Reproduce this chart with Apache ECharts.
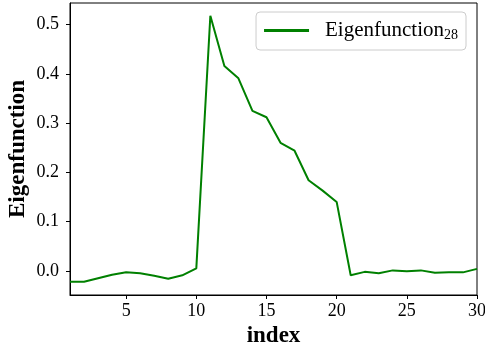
<!DOCTYPE html>
<html>
<head>
<meta charset="utf-8">
<script src="https://cdn.jsdelivr.net/npm/echarts@6/dist/echarts.min.js"></script>
<style>
  html, body { margin: 0; padding: 0; background: #fff; }
  #chart { width: 485px; height: 353px; }
</style>
</head>
<body>
<div id="chart"></div>
<script>
// values
let index_values = [1, 2, 3, 4, 5, 6, 7, 8, 9, 10, 11, 12, 13, 14, 15,
    16, 17, 18, 19, 20, 21, 22, 23, 24, 25, 26, 27, 28, 29, 30];
let eigen_values = [-0.022, -0.022, -0.015, -0.008, -0.003, -0.005, -0.010, -0.016, -0.009, 0.005,
    0.518, 0.416, 0.391, 0.325, 0.312, 0.260, 0.244, 0.184, 0.163, 0.140,
    -0.009, -0.002, -0.005, 0.001, -0.001, 0.001, -0.004, -0.003, -0.003, 0.004];
let x_ticks = [5, 10, 15, 20, 25, 30];
let y_ticks = [0.0, 0.1, 0.2, 0.3, 0.4, 0.5];

const SERIF = '"Liberation Serif", "DejaVu Serif", serif';
const LINE_COLOR = '#008000';

let chart = echarts.init(document.getElementById('chart'));

let points = index_values.map(function (x, i) { return [x, eigen_values[i]]; });

chart.setOption({
    animation: false,
    grid: {
        left: 70,
        right: 8,
        top: 3,
        bottom: 58,
        containLabel: false,
        outerBoundsMode: 'none',
        show: true,
        borderColor: '#000',
        borderWidth: 1
    },
    legend: {
        right: 19,
        top: 12,
        padding: [8, 8, 8, 8],
        borderColor: '#ccc',
        borderWidth: 1,
        borderRadius: 4,
        backgroundColor: '#fff',
        icon: 'rect',
        itemWidth: 45,
        itemHeight: 3,
        formatter: function (name) {
            return '{a|Eigenfunction}{s|28}';
        },
        textStyle: {
            rich: {
                a: { fontFamily: SERIF, fontSize: 21, color: '#000', padding: [0, 0, 0, 11] },
                s: { fontFamily: SERIF, fontSize: 14, color: '#000', padding: [9, 0, 0, 0] }
            }
        }
    },
    xAxis: {
        type: 'value',
        min: 1,
        max: 30,
        name: 'index',
        nameLocation: 'middle',
        nameGap: 30,
        nameMoveOverlap: false,
        nameTextStyle: { fontFamily: SERIF, fontSize: 23, fontWeight: 'bold', color: '#000' },
        axisLine: { onZero: false, lineStyle: { color: '#000', width: 1 } },
        axisTick: { show: true, length: 4, customValues: x_ticks, lineStyle: { color: '#000' } },
        axisLabel: { customValues: x_ticks, fontFamily: SERIF, fontSize: 18, color: '#000', margin: 7 },
        splitLine: { show: false }
    },
    yAxis: {
        type: 'value',
        min: -0.049,
        max: 0.544,
        name: 'Eigenfunction',
        nameLocation: 'middle',
        nameGap: 40,
        nameMoveOverlap: false,
        nameTextStyle: { fontFamily: SERIF, fontSize: 23, fontWeight: 'bold', color: '#000' },
        axisLine: { show: true, onZero: false, lineStyle: { color: '#000', width: 1 } },
        axisTick: { show: true, length: 4, customValues: y_ticks, lineStyle: { color: '#000' } },
        axisLabel: {
            customValues: y_ticks,
            fontFamily: SERIF, fontSize: 18, color: '#000', margin: 11,
            formatter: function (v) { return v.toFixed(1); }
        },
        splitLine: { show: false }
    },
    series: [{
        name: 'Eigenfunction28',
        type: 'line',
        data: points,
        showSymbol: false,
        lineStyle: { color: LINE_COLOR, width: 2 },
        itemStyle: { color: LINE_COLOR }
    }]
});

window.addEventListener('resize', function () { chart.resize(); });
</script>
</body>
</html>
